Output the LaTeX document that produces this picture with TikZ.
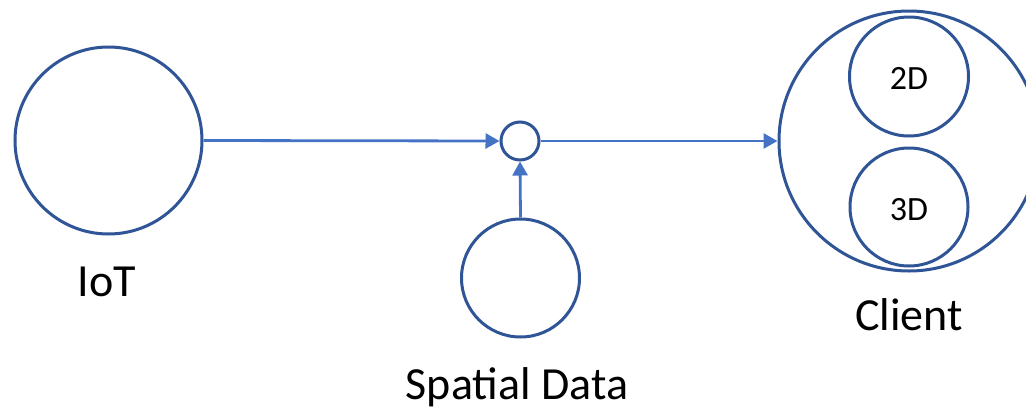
\documentclass[tikz,border=0pt]{standalone}
\usepackage{fontspec}
\setmainfont{Carlito}
\usetikzlibrary{arrows.meta}
\definecolor{ringblue}{HTML}{2F5597}
\definecolor{flowblue}{HTML}{4472C4}
\tikzset{
  ring/.style={circle, draw=ringblue, line width=3pt, inner sep=0pt, fill=white},
  flow/.style={draw=flowblue, line width=2.8pt,
    -{Triangle[length=14pt,width=15pt]}},
  caption/.style={font=\fontsize{46}{50}\selectfont, anchor=base, inner sep=0pt},
  inner/.style={font=\fontsize{34}{38}\selectfont, anchor=base, inner sep=0pt}
}
\begin{document}
\begin{tikzpicture}[x=1pt,y=-1pt]
  \useasboundingbox (0,0) rectangle (1026,410);
  \clip (0,0) rectangle (1026,410);

  % sources and merge point
  \node[ring, minimum size=187pt] (iot) at (108.5,140.5) {};
  \node[ring, minimum size=38pt] (merge) at (520,141) {};
  \node[ring, minimum size=118pt] (spatial) at (520.5,278) {};

  % client with its two views
  \node[ring, minimum size=260pt] (client) at (909,141) {};
  \node[ring, minimum size=119pt] (twod) at (909,76.5) {};
  \node[ring, minimum size=118pt] (threed) at (909,207) {};
  \node[inner] at (909,89) {2D};
  \node[inner] at (909,220) {3D};

  % data flow
  \draw[flow] (iot.east) -- (merge.west);
  \draw[flow] (spatial.north) -- (merge.south);
  \draw[flow] (merge.east) -- (client.west);

  % captions
  \node[caption] (iotlabel) at (107,296) {IoT};
  \node[caption] (spatiallabel) at (517,399) {Spatial Data};
  \node[caption] (clientlabel) at (909,330) {Client};
\end{tikzpicture}
\end{document}
